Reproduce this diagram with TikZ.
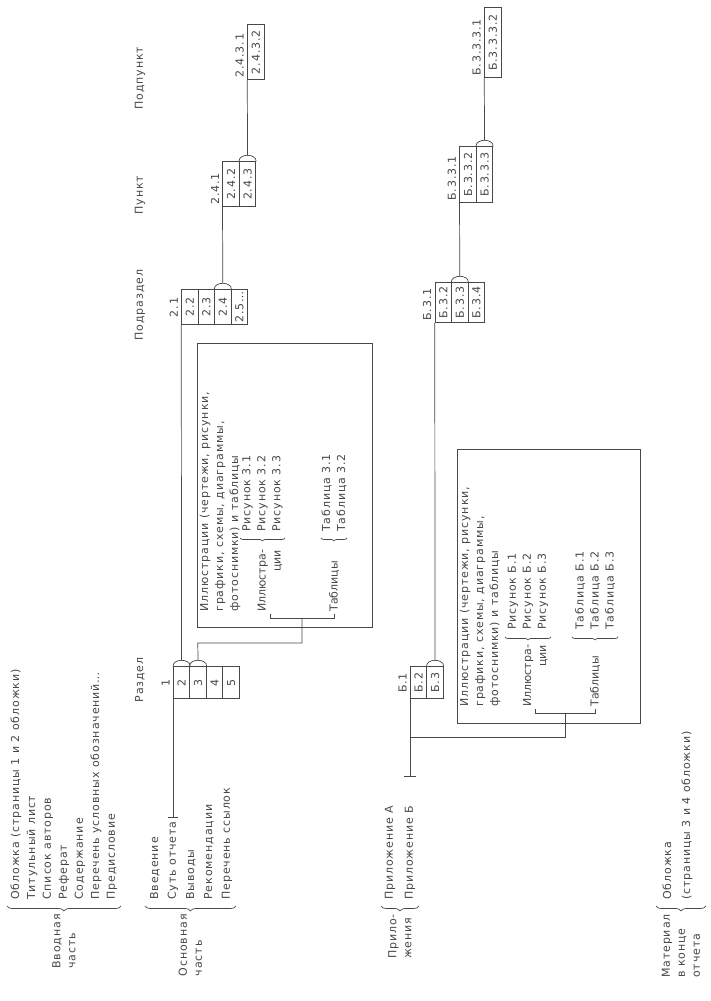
\documentclass[tikz,border=0pt]{standalone}
\usepackage{fontspec}
\newfontfamily\scanfont[LetterSpace=8]{DejaVu Sans}
\newfontfamily\scantight{DejaVu Sans}
\usetikzlibrary{arrows.meta,positioning,calc,decorations.pathreplacing}
\definecolor{inkgray}{RGB}{72,72,72}

\begin{document}
\begin{tikzpicture}[x=1pt,y=1pt,rotate=90,transform shape,color=inkgray,line width=0.7pt,
    txt/.style={inner sep=0pt,align=left,font=\scanfont\fontsize{11}{15}\selectfont},
    item/.style={txt,anchor=west},
    hdr/.style={txt,anchor=center},
    tight/.style={txt,font=\scantight\fontsize{11}{15}\selectfont},
    cell/.style={draw,inner sep=0pt,minimum height=16.5pt,anchor=north west,font=\scanfont\fontsize{11}{12}\selectfont},
    brc/.style={decorate,decoration={brace,amplitude=5pt}},
    sbrc/.style={decorate,decoration={brace,amplitude=3pt}}]
  \fill[white] (0,0) rectangle (1001,710);
  \useasboundingbox (0,0) rectangle (1001,710);

  \foreach \t [count=\i] in {Обложка (страницы 1 и 2 обложки),Титульный лист,Список авторов,Реферат,Содержание,Перечень условных обозначений…,Предисловие}
    \node[item] (v\i) at (101,{710-16*\i}) {\t};
  \draw[brc] (95,589) -- (95,703);
  \node[txt,anchor=east] (vl) at (87,646) {Вводная\\часть};

  \foreach \t [count=\i] in {Введение,Суть отчета,Выводы,Рекомендации,Перечень ссылок}
    \node[item] (o\i) at (101,{573-18*\i}) {\t};
  \draw[brc] (95,474) -- (95,565);
  \node[txt,anchor=east] (ol) at (87,519.5) {Основная\\часть};

  \node[item] (x1) at (101,320) {Приложение А};
  \node[item] (x2) at (101,300) {Приложение Б};
  \draw[brc] (95,291) -- (95,329);
  \node[txt,anchor=east] (xl) at (87,310) {Прило-\\жения};

  \node[item] (m1) at (101,43) {Обложка};
  \node[item] (m2) at (101,23) {(страницы 3 и 4 обложки)};
  \draw[brc] (95,4) -- (95,54);
  \node[txt,anchor=east] (ml) at (87,29) {Материал\\в конце\\отчета};

  \node[hdr] (hr) at (321,570) {Раздел};
  \node[hdr] (hs) at (696,570) {Подраздел};
  \node[hdr] (hp) at (806,570) {Пункт};
  \node[hdr] (hq) at (923,570) {Подпункт};

  \node[txt,anchor=south] (r1) at (318,540) {1};
  \foreach \t in {2,...,5}
    \node[cell,minimum width=32pt] (r\t) at (302,{537-16.5*(\t-2)}) {\t};
  \node[txt,anchor=south] (s1) at (693.5,531.75) {2.1};
  \foreach \t [count=\i from 2] in {2.2,2.3,2.4,2.5…}
    \node[cell,minimum width=35pt] (s\i) at (676,{528.75-16.5*(\i-2)}) {\t};
  \node[txt,anchor=south west] (p1) at (796,490.5) {2.4.1};
  \foreach \t [count=\i from 2] in {2.4.2,2.4.3}
    \node[cell,minimum width=45pt] (p\i) at (794,{487.5-16.5*(\i-2)}) {\t};
  \node[txt,anchor=south west] (q1) at (923,465.75) {2.4.3.1};
  \node[cell,minimum width=55pt] (q2) at (921,462.75) {2.4.3.2};

  \node[txt,anchor=south] (a1) at (318,303) {Б.1};
  \foreach \t [count=\i from 2] in {Б.2,Б.3}
    \node[cell,minimum width=32pt] (a\i) at (302,{300-16.5*(\i-2)}) {\t};
  \node[txt,anchor=south west] (b1) at (680,278.25) {Б.3.1};
  \foreach \t [count=\i from 2] in {Б.3.2,Б.3.3,Б.3.4}
    \node[cell,minimum width=40pt] (b\i) at (678,{275.25-16.5*(\i-2)}) {\t};
  \node[txt,anchor=south west] (c1) at (800,253.5) {Б.3.3.1};
  \foreach \t [count=\i from 2] in {Б.3.3.2,Б.3.3.3}
    \node[cell,minimum width=56pt] (c\i) at (798,{250.5-16.5*(\i-2)}) {\t};
  \node[txt,anchor=south west] (d1) at (925,228.75) {Б.3.3.3.1};
  \node[cell,minimum width=70pt] (d2) at (923,225.75) {Б.3.3.3.2};

  \foreach \n in {r2,r3,s4,p3,a3,b3,c3}
    \draw (\n.north east) .. controls +(8,0) and +(8,0) .. (\n.south east);
  \draw ($(r2.east)+(6,0)$) -- (s2.north west);
  \draw ($(s4.east)+(6,0)$) -- (p2.north west);
  \draw ($(p3.east)+(6,0)$) -- (q2.north west);
  \draw ($(a3.east)+(6,0)$) -- (b2.north west);
  \draw ($(b3.east)+(6,0)$) -- (c2.north west);
  \draw ($(c3.east)+(6,0)$) -- (d2.north west);
  \draw[{Bar[width=10pt]}-] ($(o2.east)+(4,0)$) -- (r2.north west);
  \coordinate (xb) at (224,300);
  \draw[{Bar[width=12pt]}-] (xb) -- (a2.north west);

  \draw (374,338) rectangle (658,512.25);
  \node[txt,anchor=west] (g1) at (389,490) {Иллюстрации (чертежи, рисунки,\\графики, схемы, диаграммы,\\фотоснимки) и таблицы};
  \node[tight,anchor=west,align=right] (gi1) at (389,440) {Иллюстра-\\ции};
  \draw[sbrc] (463,425) -- (463,470);
  \node[txt,anchor=west] (gf1) at (469,447.5) {Рисунок 3.1\\Рисунок 3.2\\Рисунок 3.3};
  \node[tight,anchor=west] (gt1) at (389,376) {Таблицы};
  \draw[sbrc] (463,363) -- (463,389);
  \node[txt,anchor=west] (gtt1) at (469,376) {Таблица 3.1\\Таблица 3.2};
  \draw (387,440) -- (383,440) -- (383,376) -- (387,376);
  \draw (383,408) -- (358,408) -- (358,512.25) -- ($(r3.east)+(6,0)$);

  \draw (278,70) rectangle (552,253);
  \node[txt,anchor=west] (g2) at (294,230) {Иллюстрации (чертежи, рисунки,\\графики, схемы, диаграммы,\\фотоснимки) и таблицы};
  \node[tight,anchor=west,align=right] (gi2) at (294,174.5) {Иллюстра-\\ции};
  \draw[sbrc] (364,159) -- (364,205);
  \node[txt,anchor=west] (gf2) at (371,182) {Рисунок Б.1\\Рисунок Б.2\\Рисунок Б.3};
  \node[tight,anchor=west] (gt2) at (294,115) {Таблицы};
  \draw[sbrc] (364,92) -- (364,138);
  \node[txt,anchor=west] (gtt2) at (371,115) {Таблица Б.1\\Таблица Б.2\\Таблица Б.3};
  \draw (292,174.5) -- (288,174.5) -- (288,115) -- (292,115);
  \draw (288,144.75) -- (264,144.75) -- (264,300);
\end{tikzpicture}
\end{document}
